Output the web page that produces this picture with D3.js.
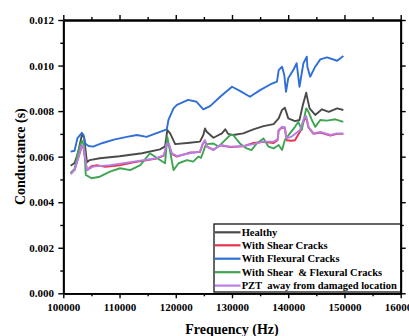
<!DOCTYPE html>
<html><head><meta charset="utf-8">
<script src="https://cdn.jsdelivr.net/npm/d3@7"></script>
<style>
html,body{margin:0;padding:0;background:#fff;}
svg{display:block;}
text{font-family:"Liberation Serif","Times New Roman",serif;font-weight:bold;fill:#000;}
</style></head>
<body><svg id="c" width="409" height="336"></svg>
<script>
// ---- data (frequency Hz, conductance in 1e-3 S) ----
const seriesNames = ["Healthy","With Shear Cracks","With Flexural Cracks","With Shear  & Flexural Cracks","PZT  away from damaged location"];
const seriesColors = ["#4a4a4a","#e8344e","#2f6fd6","#3fa552","#b77fe6"];
const xTicks = [100000,110000,120000,130000,140000,150000,160000];
const yTicks = [0,0.002,0.004,0.006,0.008,0.010,0.012];

const healthy = [[101300,5.60],[102000,5.72],[102600,6.15],[103300,6.95],[103700,6.85],[104200,5.75],[104700,5.85],[106500,5.93],[110000,6.02],[114000,6.15],[117200,6.32],[118100,6.45],[118500,7.17],[119000,7.02],[119900,6.55],[122500,6.61],[124300,6.66],[124900,6.95],[125200,7.24],[125500,7.09],[126700,6.83],[128200,7.02],[128800,7.2],[129300,7.0],[130200,6.95],[132000,7.02],[133800,7.2],[135600,7.34],[137400,7.43],[138300,7.68],[138900,8.05],[139400,8.15],[140000,7.68],[141200,7.56],[142000,7.61],[142600,8.27],[143200,8.81],[143400,8.56],[143800,8.12],[144800,7.83],[146000,8.08],[147200,7.97],[148700,8.12],[149800,8.05]];

const shear = [[101300,5.24],[102000,5.42],[102600,5.9],[103300,6.45],[103600,6.4],[104200,5.4],[105000,5.58],[106000,5.62],[107500,5.55],[110000,5.62],[112500,5.75],[116600,5.92],[117900,6.05],[118400,6.55],[118800,6.5],[119300,6.12],[120200,6.0],[122500,6.18],[124300,6.2],[124800,6.55],[125200,6.7],[125500,6.45],[126700,6.3],[127900,6.5],[129700,6.42],[132000,6.45],[133800,6.6],[135600,6.65],[137400,6.6],[138100,6.72],[138300,7.15],[138900,7.28],[139400,7.25],[139700,6.72],[140600,6.7],[141200,6.72],[142100,7.1],[142800,7.6],[143200,7.7],[143600,7.28],[144500,7.0],[145700,7.06],[147500,6.93],[148700,7.0],[149800,7.0]];

const flexural = [[101300,6.22],[102000,6.26],[102500,6.8],[103300,7.05],[103600,6.95],[103900,6.58],[104500,6.47],[105300,6.44],[107000,6.6],[109000,6.75],[111300,6.87],[113100,6.95],[114800,6.87],[117200,7.09],[118400,7.2],[118700,7.61],[119600,8.12],[120200,8.27],[122200,8.49],[123700,8.41],[124900,8.08],[126100,8.22],[127900,8.63],[130000,9.07],[131400,8.89],[133200,8.63],[135000,8.92],[136800,9.17],[138000,9.29],[138300,9.8],[138900,9.95],[139300,9.58],[139600,8.85],[140000,9.44],[140900,9.8],[141500,10.1],[142000,9.07],[142700,10.1],[143300,10.39],[143400,9.95],[143900,9.51],[144800,9.95],[145700,10.27],[146900,10.36],[148700,10.21],[149800,10.42]];

const shearFlexural = [[101300,5.30],[102000,5.45],[102600,6.2],[103300,6.7],[103700,6.5],[104000,5.2],[105000,5.05],[106500,5.12],[108300,5.34],[110100,5.49],[111900,5.41],[113700,5.63],[115400,6.15],[117200,5.85],[118100,5.71],[118500,6.87],[119000,6.22],[119600,5.41],[120500,5.71],[122000,5.85],[123100,5.78],[124000,6.0],[124500,5.95],[124900,6.22],[125200,6.44],[125500,6.55],[126700,6.58],[127600,6.44],[128500,6.66],[129700,6.95],[130200,6.95],[131400,6.58],[132600,6.36],[133500,6.29],[134400,6.58],[135600,6.8],[136500,6.44],[137400,6.36],[138300,6.51],[138900,6.29],[139400,6.73],[140300,7.02],[141200,7.31],[141800,7.53],[142400,7.17],[143200,8.12],[143600,7.97],[144200,7.61],[144800,7.31],[145700,7.61],[146900,7.58],[148400,7.64],[149800,7.53]];

const pzt = [[101300,5.24],[102000,5.41],[102600,5.9],[103300,6.51],[103600,6.45],[104200,5.41],[105300,5.56],[108300,5.63],[112500,5.78],[116600,5.93],[117900,6.07],[118400,6.58],[118800,6.55],[119300,6.15],[120200,6.03],[122500,6.15],[124300,6.22],[124800,6.58],[125200,6.73],[125500,6.44],[126700,6.29],[127900,6.51],[129700,6.44],[132000,6.47],[133800,6.55],[135600,6.66],[137400,6.66],[138100,6.76],[138300,7.17],[138900,7.31],[139400,7.29],[139700,6.8],[140600,6.88],[142100,7.17],[142800,7.68],[143200,7.78],[143600,7.31],[144500,7.02],[145700,7.09],[147500,6.95],[148700,7.02],[149800,7.02]];

const allSeries = [healthy, shear, flexural, shearFlexural, pzt];

// ---- chart ----
const svg = d3.select("#c");
const L = 63.3, R = 400.7, T = 20, B = 293.3;
const x = d3.scaleLinear().domain([100000,160000]).range([L,R]);
const y = d3.scaleLinear().domain([0,0.012]).range([B,T]);

const line = d3.line().x(d => x(d[0])).y(d => y(d[1]/1000));

allSeries.forEach((s,i) => {
  svg.append("path").datum(s).attr("d", line)
    .attr("fill","none").attr("stroke", seriesColors[i])
    .attr("stroke-width",1.9).attr("stroke-linejoin","round");
});

const xMinor = d3.range(105000,160000,10000);
const yMinor = d3.range(0.001,0.012,0.002);
function styleAxis(g){
  g.selectAll(".domain").attr("stroke","#000").attr("stroke-width",1.8);
  g.selectAll(".tick line").attr("stroke","#000").attr("stroke-width",1.4);
  g.selectAll("text").style("font-size","11px").style("font-family",'"Liberation Serif","Times New Roman",serif').style("font-weight","bold");
}
// bottom
svg.append("g").attr("transform",`translate(0,${B})`)
  .call(d3.axisBottom(x).tickValues(xTicks).tickFormat(d3.format("d")).tickSize(5).tickSizeOuter(0).tickPadding(4.4)).call(styleAxis);
svg.append("g").attr("transform",`translate(0,${B})`)
  .call(d3.axisBottom(x).tickValues(xMinor).tickFormat("").tickSize(3).tickSizeOuter(0)).call(styleAxis);
// top
svg.append("g").attr("transform",`translate(0,${T})`)
  .call(d3.axisTop(x).tickValues(xTicks).tickFormat("").tickSize(5).tickSizeOuter(0)).call(styleAxis);
svg.append("g").attr("transform",`translate(0,${T})`)
  .call(d3.axisTop(x).tickValues(xMinor).tickFormat("").tickSize(3).tickSizeOuter(0)).call(styleAxis);
// left
svg.append("g").attr("transform",`translate(${L},0)`)
  .call(d3.axisLeft(y).tickValues(yTicks).tickFormat(d3.format(".3f")).tickSize(5).tickSizeOuter(0).tickPadding(4.3)).call(styleAxis);
svg.append("g").attr("transform",`translate(${L},0)`)
  .call(d3.axisLeft(y).tickValues(yMinor).tickFormat("").tickSize(3).tickSizeOuter(0)).call(styleAxis);
// right
svg.append("g").attr("transform",`translate(${R},0)`)
  .call(d3.axisRight(y).tickValues(yTicks).tickFormat("").tickSize(5).tickSizeOuter(0)).call(styleAxis);
svg.append("g").attr("transform",`translate(${R},0)`)
  .call(d3.axisRight(y).tickValues(yMinor).tickFormat("").tickSize(3).tickSizeOuter(0)).call(styleAxis);

// axis titles
svg.append("text").attr("x",(L+R)/2).attr("y",334).attr("text-anchor","middle")
  .style("font-size","14px").text("Frequency (Hz)");
svg.append("text").attr("transform",`translate(25,${(T+B)/2}) rotate(-90)`).attr("text-anchor","middle")
  .style("font-size","14px").text("Conductance (s)");

// legend
const lg = svg.append("g");
lg.append("rect").attr("x",214).attr("y",224).attr("width",R-214).attr("height",292-224)
  .attr("fill","#fff").attr("stroke","#000").attr("stroke-width",1.2);
const rowY = [232.3,245.3,258.7,272.2,285.6];
seriesNames.forEach((n,i) => {
  lg.append("line").attr("x1",215).attr("x2",240.5).attr("y1",rowY[i]).attr("y2",rowY[i])
    .attr("stroke",seriesColors[i]).attr("stroke-width",2.2);
  lg.append("text").attr("x",241.7).attr("y",rowY[i]).attr("dy","0.35em")
    .style("font-size","10.5px").style("white-space","pre").attr("xml:space","preserve").text(n);
});
</script></body></html>
